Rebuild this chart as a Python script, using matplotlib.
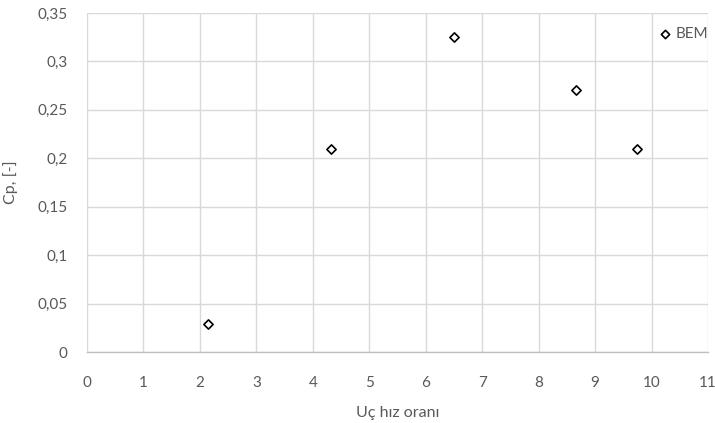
import matplotlib
matplotlib.use('Agg')
import matplotlib.pyplot as plt
from matplotlib.ticker import FuncFormatter, MultipleLocator

# BEM sonuçları
tsr = [2.15, 4.33, 6.50, 8.66, 9.75]
cp = [0.029, 0.21, 0.325, 0.27, 0.21]

plt.rcParams['font.family'] = ['Lato', 'DejaVu Sans']

fig = plt.figure(figsize=(7.15, 4.23), dpi=100)
ax = fig.add_axes([87 / 715, 1 - 352 / 423, (708 - 87) / 715, (352 - 13) / 423])

ax.scatter(tsr, cp, marker='D', s=22, facecolors='white', edgecolors='black',
           linewidths=1.2, label='BEM', zorder=3)

ax.set_xlim(0, 11)
ax.set_ylim(0, 0.35)
ax.xaxis.set_major_locator(MultipleLocator(1))
ax.yaxis.set_major_locator(MultipleLocator(0.05))

# Excel gibi virgüllü ondalık
def comma(v, pos):
    if abs(v) < 1e-9:
        return '0'
    return ('%g' % round(v, 2)).replace('.', ',')

ax.yaxis.set_major_formatter(FuncFormatter(comma))
ax.xaxis.set_major_formatter(FuncFormatter(lambda v, p: '%d' % v))

ax.grid(True, color='#d9d9d9', linewidth=1)
ax.set_axisbelow(True)
for s in ['top', 'right', 'left']:
    ax.spines[s].set_visible(False)
ax.spines['bottom'].set_color('#bfbfbf')
ax.spines['bottom'].set_linewidth(1)
ax.tick_params(length=0, colors='#595959', labelsize=11)
ax.tick_params(axis='x', pad=17)
ax.tick_params(axis='y', pad=14)

ax.set_xlabel('Uç hız oranı', color='#595959', fontsize=11.5, labelpad=12)
ax.set_ylabel('Cp, [-]', color='#595959', fontsize=11.5, labelpad=14)

leg = ax.legend(loc='upper right', frameon=False, fontsize=11, handletextpad=0.2,
                handlelength=1.0, borderaxespad=0.0, borderpad=0.0,
                bbox_to_anchor=(1.0, 0.96), markerscale=0.9)
for t in leg.get_texts():
    t.set_color('#595959')

plt.savefig('out.png', dpi=100)
